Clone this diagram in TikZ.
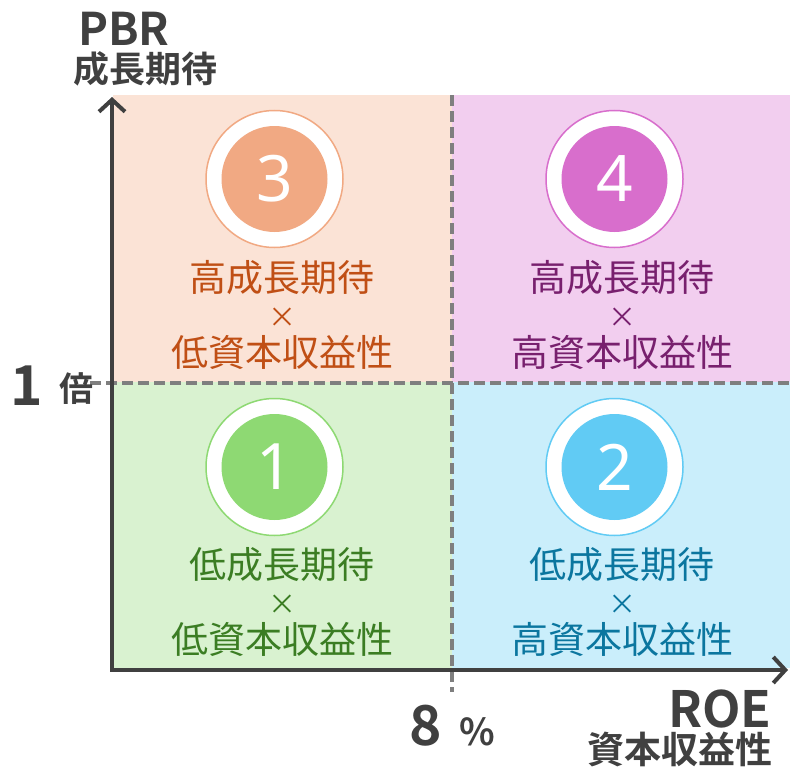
\documentclass[tikz,border=0pt]{standalone}
\usepackage{fontspec}
\usetikzlibrary{arrows.meta}
\setmainfont{Noto Sans CJK JP}
\newfontfamily\jpbold{Noto Sans CJK JP Bold}
\newfontfamily\numfont{Noto Sans}
\definecolor{axisgray}{HTML}{404040}
\definecolor{divgray}{HTML}{7F7F7F}
\definecolor{peachbg}{HTML}{FBE3D6}
\definecolor{peachc}{HTML}{F1A983}
\definecolor{peacht}{HTML}{C04F15}
\definecolor{pinkbg}{HTML}{F2CEEF}
\definecolor{pinkc}{HTML}{D86ECC}
\definecolor{pinkt}{HTML}{78206E}
\definecolor{greenbg}{HTML}{D9F2D0}
\definecolor{greenc}{HTML}{8ED973}
\definecolor{greent}{HTML}{3B7D23}
\definecolor{bluebg}{HTML}{CAEEFB}
\definecolor{bluec}{HTML}{61CBF4}
\definecolor{bluet}{HTML}{0B769F}
\begin{document}
\begin{tikzpicture}[x=1pt,y=-1pt,
  axis/.style={line width=4pt, draw=axisgray},
  divider/.style={line width=3.5pt, draw=divgray, dash pattern=on 11pt off 5pt},
  ring/.style={circle, minimum size=137pt, inner sep=0pt, fill=white, draw=#1, line width=1.5pt},
  disc/.style={circle, minimum size=106pt, inner sep=0pt, fill=#1, text=white, font=\numfont\fontsize{64}{64}\selectfont},
  qtext/.style={inner sep=0pt, text=#1, font=\fontsize{37}{37}\selectfont},
  qtimes/.style={inner sep=0pt, text=#1, font=\fontsize{28}{28}\selectfont},
  lab/.style={inner sep=0pt, text=axisgray, font=\jpbold\fontsize{#1}{#1}\selectfont}
]
\useasboundingbox (0,0) rectangle (790,768);
% quadrants
\fill[peachbg] (113,95) rectangle (452,382);
\fill[pinkbg] (452,95) rectangle (790,382);
\fill[greenbg] (113,382) rectangle (452,668);
\fill[bluebg] (452,382) rectangle (790,668);
% dividers
\coordinate (vtop) at (452,95);
\coordinate (vbot) at (452,692);
\coordinate (hleft) at (90,383);
\coordinate (hright) at (790,383);
\draw[divider] (vtop) -- (vbot);
\draw[divider] (hleft) -- (hright);
% axes
\coordinate (ytop) at (112,97);
\coordinate (O) at (112,670);
\coordinate (xend) at (788,670);
\draw[axis, {Straight Barb[length=12pt,width=26pt]}-{Straight Barb[length=12pt,width=26pt]}] (ytop) -- (O) -- (xend);
% circles
\node[ring=peachc] (r3) at (274.5,179) {};
\node[disc=peachc] (n3) at (r3) {3};
\node[ring=pinkc] (r4) at (614.5,179) {};
\node[disc=pinkc] (n4) at (r4) {4};
\node[ring=greenc] (r1) at (274.5,467) {};
\node[disc=greenc] (n1) at (r1) {1};
\node[ring=bluec] (r2) at (614.5,467) {};
\node[disc=bluec] (n2) at (r2) {2};
% quadrant texts
\node[qtext=peacht] (t3a) at (282,278) {高成長期待};
\node[qtimes=peacht] (t3b) at (282,318) {×};
\node[qtext=peacht] (t3c) at (282,352) {低資本収益性};
\node[qtext=pinkt] (t4a) at (622,278) {高成長期待};
\node[qtimes=pinkt] (t4b) at (622,318) {×};
\node[qtext=pinkt] (t4c) at (622,352) {高資本収益性};
\node[qtext=greent] (t1a) at (282,565) {低成長期待};
\node[qtimes=greent] (t1b) at (282,605) {×};
\node[qtext=greent] (t1c) at (282,639) {低資本収益性};
\node[qtext=bluet] (t2a) at (622,565) {低成長期待};
\node[qtimes=bluet] (t2b) at (622,605) {×};
\node[qtext=bluet] (t2c) at (622,639) {高資本収益性};
% axis labels
\node[lab=45] (pbr) at (124,29) {PBR};
\node[lab=36] (pbrj) at (145,69) {成長期待};
\node[lab=55] (one) at (27,386) {1};
\node[lab=34] (bai) at (76,389) {倍};
\node[lab=55] (eight) at (426,726) {8};
\node[lab=37] (pct) at (477,732) {\%};
\node[lab=50] (roe) at (720,709) {ROE};
\node[lab=37] (roej) at (680,749) {資本収益性};
\end{tikzpicture}
\end{document}
